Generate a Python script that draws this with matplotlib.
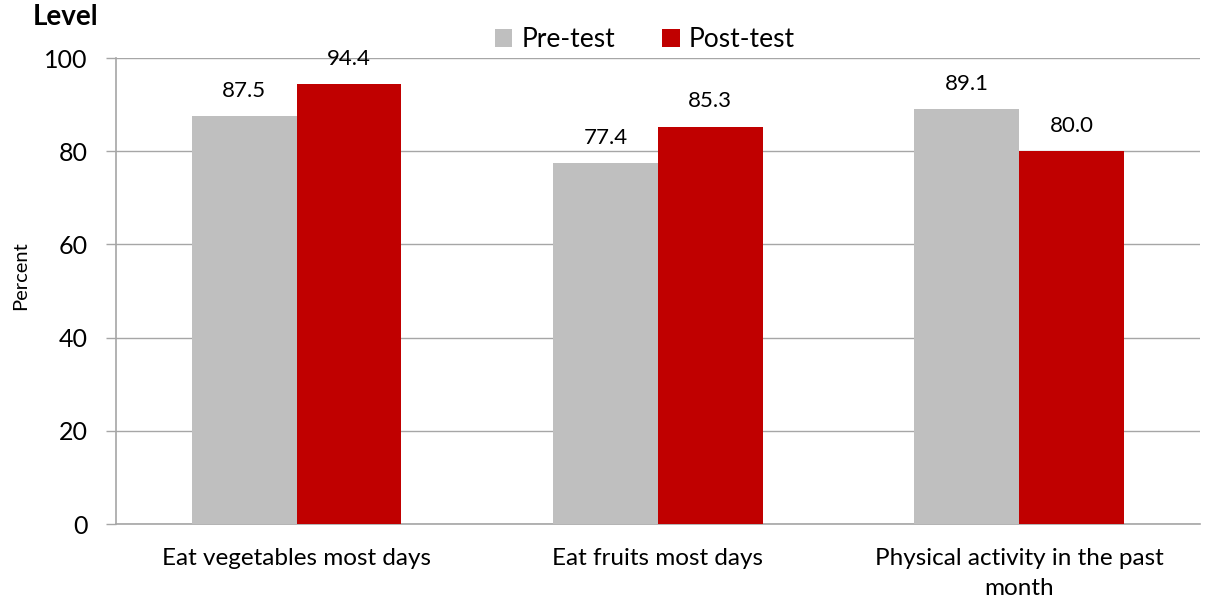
import matplotlib
matplotlib.use("Agg")
import matplotlib.pyplot as plt
import numpy as np

categories = ["Eat vegetables most days", "Eat fruits most days", "Physical activity in the past\nmonth"]
pre_test = [87.5, 77.4, 89.1]
post_test = [94.4, 85.3, 80.0]
series_names = ["Pre-test", "Post-test"]
yticks = [0, 20, 40, 60, 80, 100]

plt.rcParams['font.family'] = ['Lato', 'DejaVu Sans']

fig = plt.figure(figsize=(12.11, 6.03), dpi=100)
ax = fig.add_axes([0.0958, 0.131, 0.895, 0.7728])

x = np.arange(len(categories))
w = 0.29
b1 = ax.bar(x - w/2, pre_test, w, color="#BFBFBF", label=series_names[0], zorder=3)
b2 = ax.bar(x + w/2, post_test, w, color="#C00000", label=series_names[1], zorder=3)

for bars, vals in ((b1, pre_test), (b2, post_test)):
    for r, v in zip(bars, vals):
        ax.annotate(f"{v:.1f}", (r.get_x() + r.get_width()/2, v), xytext=(0, 11),
                    textcoords="offset points", ha="center", va="bottom", fontsize=16)

ax.set_xlim(-0.5, 2.5)
ax.set_ylim(0, 100)
ax.set_yticks(yticks)
ax.yaxis.grid(True, color="#A6A6A6", linewidth=1, zorder=0)
ax.set_xticks(x)
ax.set_xticklabels(categories, fontsize=17.5, linespacing=1.55)
ax.tick_params(axis="x", length=0, pad=17)
ax.tick_params(axis="y", labelsize=18, length=7.5, color="#A6A6A6", width=1, pad=13)
for s in ["top", "right"]:
    ax.spines[s].set_visible(False)
for s in ["left", "bottom"]:
    ax.spines[s].set_color("#A6A6A6")
    ax.spines[s].set_linewidth(1.2)
ax.set_ylabel("Percent", fontsize=14.5)
ax.yaxis.set_label_coords(-0.080, 0.534)

fig.text(0.027, 0.972, "Level", fontsize=20, fontweight="bold", ha="left", va="center")
leg = ax.legend(loc="lower center", bbox_to_anchor=(0.488, 0.99), ncol=2, frameon=False,
                fontsize=19, handlelength=0.65, handleheight=0.65, handletextpad=0.35,
                columnspacing=1.8, borderaxespad=0)

fig.savefig("out.png", dpi=100)
